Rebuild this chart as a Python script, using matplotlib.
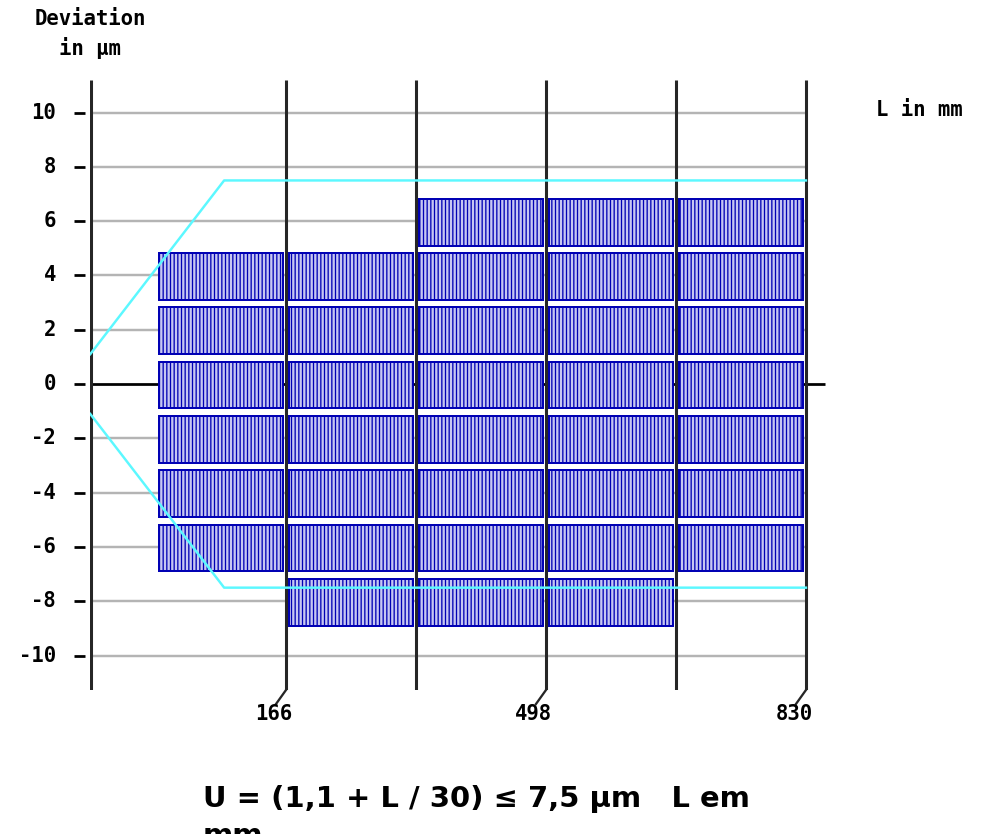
import matplotlib
matplotlib.use("Agg")
import matplotlib.pyplot as plt
from matplotlib.patches import Rectangle

# Column boundaries along the measured length L (mm)
col_edges = [0, 166, 332, 498, 664, 830]
# Deviation range (µm) covered by the blocks of each column
dev_low = [-7, -9, -9, -9, -7]
dev_high = [5, 5, 7, 7, 7]
block_step = 2

# Tolerance envelope U (upper branch; lower branch is mirrored)
env_L = [-84, 87, 830]
env_U = [1.1, 7.5, 7.5]

y_ticks = [10, 8, 6, 4, 2, 0, -2, -4, -6, -8, -10]
x_labels = [166, 498, 830]

plt.rcParams["hatch.linewidth"] = 0.85

DPI = 110
W, H = 985, 834
fig = plt.figure(figsize=(W / DPI, H / DPI), dpi=DPI)
fig.patch.set_facecolor("white")

# plotting area in pixel terms: x 90..830, y 80..690
ax = fig.add_axes([90 / W, (H - 690) / H, 740 / W, 610 / H])
X0, X1 = -84.3, 860.7
Y0, Y1 = -11.27, 11.2
ax.set_xlim(X0, X1)
ax.set_ylim(Y0, Y1)
ax.axis("off")

px_per_x = 740 / (X1 - X0)

mono = dict(family="DejaVu Sans Mono", fontweight="bold", color="black")
label_size = 13.5

# horizontal grid
for yv in y_ticks:
    if yv == 0:
        ax.hlines(0, X0, 854, color="black", lw=1.8, zorder=1.5)
    else:
        ax.hlines(yv, X0, col_edges[-1], color="#b4b4b4", lw=1.6, zorder=1)

# y tick labels and detached dashes
ytr = ax.get_yaxis_transform()
for yv in y_ticks:
    ax.text(-34 / 740, yv, f"{yv}", transform=ytr, ha="right", va="center",
            fontsize=label_size, **mono)
    ax.plot([-16 / 740, -5 / 740], [yv, yv], transform=ytr, color="black",
            lw=1.8, clip_on=False, solid_capstyle="butt")

# blocks of measured deviations
inset_x = 4
for i in range(len(dev_low)):
    left = col_edges[i] + inset_x
    width = col_edges[i + 1] - col_edges[i] - 2 * inset_x
    lo = dev_low[i]
    while lo < dev_high[i]:
        rect = Rectangle((left, lo + 0.1), width, block_step - 0.28,
                         facecolor="#c6c6f2", edgecolor="#0000b4",
                         hatch="|||||", lw=1.3, zorder=2)
        ax.add_patch(rect)
        lo += block_step

# vertical axis and column lines
ax.vlines(X0 + 1.2 / px_per_x, Y0, Y1, color="#262626", lw=2, zorder=3)
ax.vlines(col_edges[1:], Y0, Y1, color="#262626", lw=2, zorder=3)

# slanted leaders to the L labels
dx = 10 / px_per_x
dy = 14 * (Y1 - Y0) / 610
for lv in x_labels:
    ax.plot([lv, lv - dx], [Y0, Y0 - dy], color="#262626", lw=1.5,
            clip_on=False, zorder=3)
    ax.text(lv - 12 / px_per_x, Y0 - 24 * (Y1 - Y0) / 610, f"{lv}",
            ha="center", va="center", fontsize=label_size, **mono)

# tolerance envelope
ax.plot(env_L, env_U, color="#5cf8ff", lw=1.6, zorder=4)
ax.plot(env_L, [-u for u in env_U], color="#5cf8ff", lw=1.6, zorder=4)

# titles
fig.text(35 / W, 1 - 19 / H, "Deviation", ha="left", va="center",
         fontsize=label_size, **mono)
fig.text(59 / W, 1 - 48 / H, "in µm", ha="left", va="center",
         fontsize=label_size, **mono)
fig.text(876 / W, 1 - 110 / H, "L in mm", ha="left", va="center",
         fontsize=label_size, **mono)

sans = dict(family="DejaVu Sans", fontweight="bold", color="black",
            fontsize=19)
fig.text(203 / W, 1 - 807 / H, "U = (1,1 + L / 30) ≤ 7,5 µm   L em",
         ha="left", va="baseline", **sans)
fig.text(203 / W, 1 - 844 / H, "mm", ha="left", va="baseline", **sans)

fig.savefig("out.png", dpi=DPI)
